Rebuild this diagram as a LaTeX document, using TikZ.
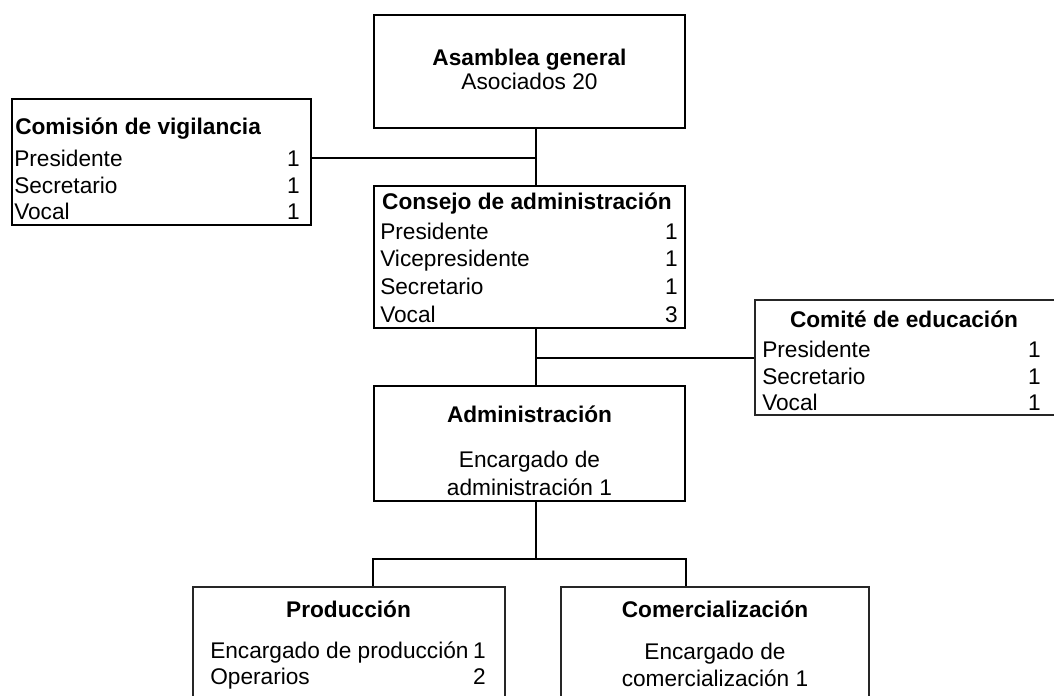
\documentclass[tikz,border=0pt]{standalone}
\usepackage{fontspec}
\setmainfont{Liberation Sans}
\usetikzlibrary{fit, calc}
\newcommand\cellfont{\fontsize{17}{19.5}\selectfont}
\tikzset{
    % Box styles - sharp corners, no fill
    mainbox/.style={
        rectangle,
        draw=black,
        line width=1.3pt,
        inner sep=0pt
    },
    sidebox/.style={
        rectangle,
        draw=black!85,
        line width=0.9pt,
        inner sep=0pt
    },
    % Text styles
    cell/.style={
        font=\cellfont,
        inner sep=0pt,
        yshift=-2.5pt
    },
    headcell/.style={
        font=\cellfont\bfseries,
        inner sep=0pt,
        yshift=-2.5pt
    },
    % Connector style - straight lines only
    link/.style={
        line width=1.3pt,
        draw=black
    }
}
\begin{document}
\begin{tikzpicture}[x=0.75pt, y=-0.75pt]
    \useasboundingbox (0,0) rectangle (1054,696);
    \clip (0,0) rectangle (1054,696);

    % Boxes
    \node[mainbox, fit={(374,15) (685,128)}] (asamblea) {};
    \node[mainbox, fit={(12,99) (311,225)}] (comision) {};
    \node[mainbox, fit={(374,186) (685,328)}] (consejo) {};
    \node[sidebox, fit={(755,300) (1090,415)}] (comite) {};
    \node[mainbox, fit={(374,386) (685,501)}] (admin) {};
    \node[sidebox, fit={(193,587) (505,760)}] (produccion) {};
    \node[sidebox, fit={(561,587) (869,760)}] (comercial) {};

    % Asamblea general
    \node[headcell, anchor=mid] (asambleaT) at (529.5,59) {Asamblea general};
    \node[cell, anchor=mid] (asambleaN) at (529.5,83) {Asociados 20};

    % Comision de vigilancia
    \node[headcell, anchor=mid west] (comisionT) at (15,128) {Comisión de vigilancia};
    \foreach \lbl/\num/\y [count=\i] in {Presidente/1/160, Secretario/1/187, Vocal/1/213} {
        \node[cell, anchor=mid west] (comision-l\i) at (14,\y) {\lbl};
        \node[cell, anchor=mid east] (comision-n\i) at (300,\y) {\num};
    }

    % Consejo de administracion
    \node[headcell, anchor=mid] (consejoT) at (527,203) {Consejo de administración};
    \foreach \lbl/\num/\y [count=\i] in {Presidente/1/233, Vicepresidente/1/260, Secretario/1/288, Vocal/3/316} {
        \node[cell, anchor=mid west] (consejo-l\i) at (380,\y) {\lbl};
        \node[cell, anchor=mid east] (consejo-n\i) at (678,\y) {\num};
    }

    % Comite de educacion
    \node[headcell, anchor=mid] (comiteT) at (904,321) {Comité de educación};
    \foreach \lbl/\num/\y [count=\i] in {Presidente/1/351, Secretario/1/378, Vocal/1/404} {
        \node[cell, anchor=mid west] (comite-l\i) at (762,\y) {\lbl};
        \node[cell, anchor=mid east] (comite-n\i) at (1041,\y) {\num};
    }

    % Administracion
    \node[headcell, anchor=mid] (adminT) at (529.5,416) {Administración};
    \node[cell, anchor=mid] (admin1) at (529.5,461) {Encargado de};
    \node[cell, anchor=mid] (admin2) at (529.5,489) {administración 1};

    % Produccion
    \node[headcell, anchor=mid] (produccionT) at (348.5,611) {Producción};
    \foreach \lbl/\num/\y [count=\i] in {Encargado de producción/1/652, Operarios/2/678} {
        \node[cell, anchor=mid west] (produccion-l\i) at (210,\y) {\lbl};
        \node[cell, anchor=mid east] (produccion-n\i) at (486,\y) {\num};
    }

    % Comercializacion
    \node[headcell, anchor=mid] (comercialT) at (715,611) {Comercialización};
    \node[cell, anchor=mid] (comercial1) at (715,653) {Encargado de};
    \node[cell, anchor=mid] (comercial2) at (715,680) {comercialización 1};

    % Connectors
    \coordinate (spine) at (536,0);
    \coordinate (vig) at (536,158);
    \coordinate (edu) at (536,358);
    \coordinate (bus) at (536,559);
    \draw[link] (asamblea.south -| spine) -- (consejo.north -| spine);
    \draw[link] (comision.east |- vig) -- (vig);
    \draw[link] (consejo.south -| spine) -- (admin.north -| spine);
    \draw[link] (edu) -- (edu -| comite.west);
    \draw[link] (admin.south -| spine) -- (bus);
    \draw[link] (produccion.north -| admin.west) |- (bus) -| (comercial.north -| admin.east);
\end{tikzpicture}
\end{document}
